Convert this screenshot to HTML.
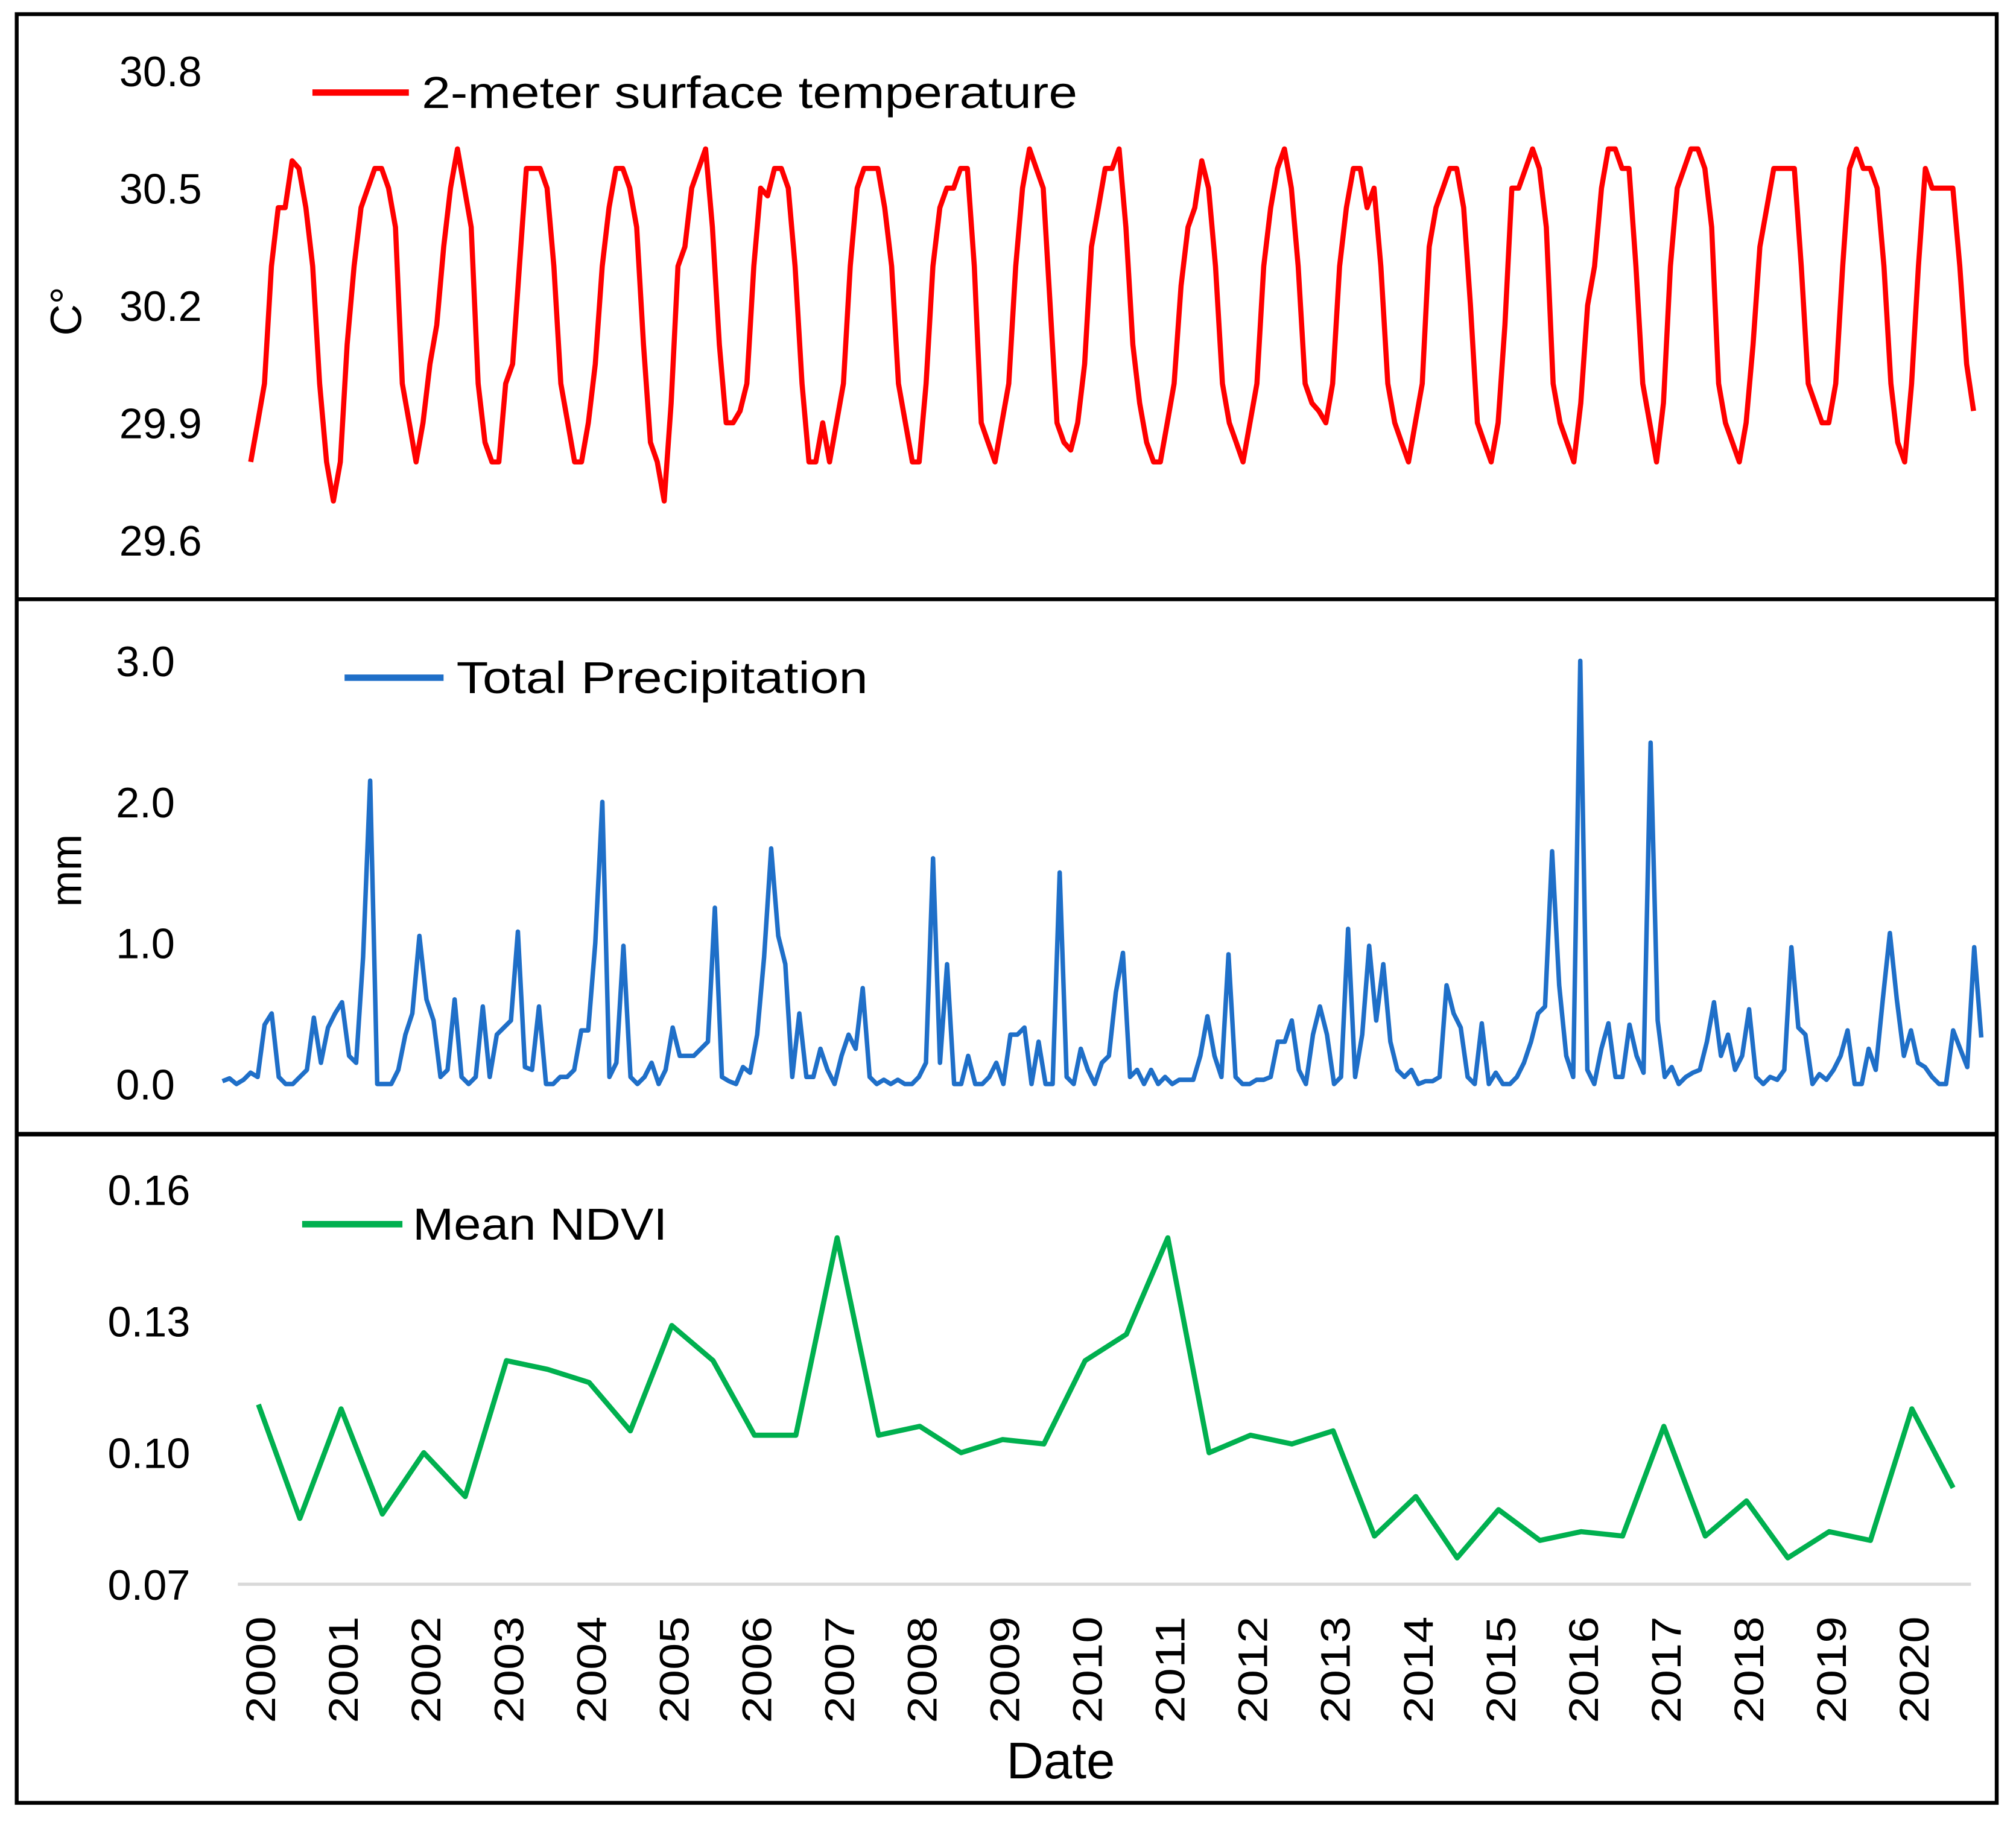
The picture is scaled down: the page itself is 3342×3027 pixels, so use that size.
<!DOCTYPE html>
<html><head><meta charset="utf-8"><style>
html,body{margin:0;padding:0;background:#fff}
svg{display:block}
text{font-family:"Liberation Sans",sans-serif;fill:#000}
</style></head><body>
<svg id="chart" xmlns="http://www.w3.org/2000/svg" width="3342" height="3027" viewBox="0 0 1568 1420" preserveAspectRatio="none">
<rect x="0" y="0" width="1568" height="1420" fill="#fff"/>
<rect x="13" y="11" width="1540" height="1391" fill="none" stroke="#000" stroke-width="3"/>
<line x1="13" y1="466" x2="1553" y2="466" stroke="#000" stroke-width="3"/>
<line x1="13" y1="882" x2="1553" y2="882" stroke="#000" stroke-width="3.5"/>
<g id="g-temp"></g>
<g id="g-precip"></g>
<g id="g-ndvi"></g>
<text transform="translate(63,242) rotate(-90)" text-anchor="middle" font-size="34">C°</text>
<text transform="translate(63,677) rotate(-90)" text-anchor="middle" font-size="34">mm</text>
<text x="825" y="1383" text-anchor="middle" font-size="40">Date</text>
<line x1="243" y1="72" x2="318" y2="72" stroke="#ff0000" stroke-width="5"/>
<text x="328" y="84" font-size="35" textLength="510" lengthAdjust="spacingAndGlyphs">2-meter surface temperature</text>
<line x1="268" y1="527" x2="345" y2="527" stroke="#1f6fc8" stroke-width="5"/>
<text x="355" y="539" font-size="35" textLength="320" lengthAdjust="spacingAndGlyphs">Total Precipitation</text>
<line x1="235" y1="952" x2="313" y2="952" stroke="#00b04f" stroke-width="5"/>
<text x="321" y="964" font-size="35" textLength="198" lengthAdjust="spacingAndGlyphs">Mean NDVI</text>
</svg>
<script>
const tempTicks = [29.6, 29.9, 30.2, 30.5, 30.8];
const tempValues = [
29.80,29.90,30.00,30.30,30.45,30.45,30.57,30.55,30.45,30.30,30.00,29.80,
29.70,29.80,30.10,30.30,30.45,30.50,30.55,30.55,30.50,30.40,30.00,29.90,
29.80,29.90,30.05,30.15,30.35,30.50,30.60,30.50,30.40,30.00,29.85,29.80,
29.80,30.00,30.05,30.30,30.55,30.55,30.55,30.50,30.30,30.00,29.90,29.80,
29.80,29.90,30.05,30.30,30.45,30.55,30.55,30.50,30.40,30.10,29.85,29.80,
29.70,29.95,30.30,30.35,30.50,30.55,30.60,30.40,30.10,29.90,29.90,29.93,
30.00,30.30,30.50,30.48,30.55,30.55,30.50,30.30,30.00,29.80,29.80,29.90,
29.80,29.90,30.00,30.30,30.50,30.55,30.55,30.55,30.45,30.30,30.00,29.90,
29.80,29.80,30.00,30.30,30.45,30.50,30.50,30.55,30.55,30.30,29.90,29.85,
29.80,29.90,30.00,30.30,30.50,30.60,30.55,30.50,30.20,29.90,29.85,29.83,
29.90,30.05,30.35,30.45,30.55,30.55,30.60,30.40,30.10,29.95,29.85,29.80,
29.80,29.90,30.00,30.25,30.40,30.45,30.57,30.50,30.30,30.00,29.90,29.85,
29.80,29.90,30.00,30.30,30.45,30.55,30.60,30.50,30.30,30.00,29.95,29.93,
29.90,30.00,30.30,30.45,30.55,30.55,30.45,30.50,30.30,30.00,29.90,29.85,
29.80,29.90,30.00,30.35,30.45,30.50,30.55,30.55,30.45,30.20,29.90,29.85,
29.80,29.90,30.15,30.50,30.50,30.55,30.60,30.55,30.40,30.00,29.90,29.85,
29.80,29.95,30.20,30.30,30.50,30.60,30.60,30.55,30.55,30.30,30.00,29.90,
29.80,29.95,30.30,30.50,30.55,30.60,30.60,30.55,30.40,30.00,29.90,29.85,
29.80,29.90,30.10,30.35,30.45,30.55,30.55,30.55,30.55,30.30,30.00,29.95,
29.90,29.90,30.00,30.30,30.55,30.60,30.55,30.55,30.50,30.30,30.00,29.85,
29.80,30.00,30.30,30.55,30.50,30.50,30.50,30.50,30.30,30.05,29.93
];
const precipTicks = [0.0, 1.0, 2.0, 3.0];
const precipValues = [
0.02,0.04,0.00,0.03,0.08,0.05,0.42,0.50,0.05,0.00,0.00,0.05,
0.10,0.47,0.15,0.40,0.50,0.58,0.20,0.15,0.90,2.15,0.00,0.00,
0.00,0.10,0.35,0.50,1.05,0.60,0.45,0.05,0.10,0.60,0.05,0.00,
0.05,0.55,0.05,0.35,0.40,0.45,1.08,0.12,0.10,0.55,0.00,0.00,
0.05,0.05,0.10,0.38,0.38,1.00,2.00,0.05,0.15,0.98,0.05,0.00,
0.05,0.15,0.00,0.10,0.40,0.20,0.20,0.20,0.25,0.30,1.25,0.05,
0.02,0.00,0.12,0.08,0.35,0.90,1.67,1.05,0.85,0.05,0.50,0.05,
0.05,0.25,0.10,0.00,0.20,0.35,0.25,0.68,0.05,0.00,0.03,0.00,
0.03,0.00,0.00,0.05,0.15,1.60,0.15,0.85,0.00,0.00,0.20,0.00,
0.00,0.05,0.15,0.00,0.35,0.35,0.40,0.00,0.30,0.00,0.00,1.50,
0.05,0.00,0.25,0.10,0.00,0.15,0.20,0.65,0.93,0.05,0.10,0.00,
0.10,0.00,0.05,0.00,0.03,0.03,0.03,0.20,0.48,0.20,0.05,0.92,
0.05,0.00,0.00,0.03,0.03,0.05,0.30,0.30,0.45,0.10,0.00,0.35,
0.55,0.35,0.00,0.05,1.10,0.05,0.35,0.98,0.45,0.85,0.30,0.10,
0.05,0.10,0.00,0.02,0.02,0.05,0.70,0.50,0.40,0.05,0.00,0.43,
0.00,0.08,0.00,0.00,0.05,0.15,0.30,0.50,0.55,1.65,0.70,0.20,
0.05,3.00,0.10,0.00,0.25,0.43,0.05,0.05,0.42,0.20,0.08,2.42,
0.45,0.05,0.12,0.00,0.05,0.08,0.10,0.30,0.58,0.20,0.35,0.10,
0.20,0.53,0.05,0.00,0.05,0.03,0.10,0.97,0.40,0.35,0.00,0.07,
0.03,0.10,0.20,0.38,0.00,0.00,0.25,0.10,0.60,1.07,0.60,0.20,
0.38,0.15,0.12,0.05,0.00,0.00,0.38,0.25,0.12,0.97,0.33
];
const ndviTicks = ["0.07", "0.10", "0.13", "0.16"];
const ndviValues = [0.111,0.085,0.110,0.086,0.100,0.090,0.121,0.119,0.116,0.105,0.129,0.121,
0.104,0.104,0.149,0.104,0.106,0.100,0.103,0.102,0.121,0.127,0.149,0.100,0.104,0.102,0.105,
0.081,0.090,0.076,0.087,0.080,0.082,0.081,0.106,0.081,0.089,0.076,0.082,0.080,0.110,0.092];
const yearLabels = ["2000","2001","2002","2003","2004","2005","2006","2007","2008","2009","2010",
"2011","2012","2013","2014","2015","2016","2017","2018","2019","2020"];

const NS = "http://www.w3.org/2000/svg";
function mk(tag, attrs, parent){ const e=document.createElementNS(NS,tag); for(const k in attrs) e.setAttribute(k,attrs[k]); parent.appendChild(e); return e; }

// axis functions
const tempX = i => 195 + i*5.36;
const tempY = v => 55 + (30.8 - v)/0.3*91.25;
const precipX = i => 173 + i*5.472;
const precipY = v => 843 - v*109.7;
const ndviX = i => 201 + i*32.15;
const ndviY = v => 1232 - (v - 0.07)/0.03*102.3;
const yearX = k => 203 + k*64.3;

const gT = document.getElementById('g-temp');
tempTicks.forEach(t=>{
  const e = mk('text',{x:157,y:tempY(t)+12,'text-anchor':'end','font-size':33},gT);
  e.textContent = t.toFixed(1);
  
  
});
const pT = mk('polyline',{fill:'none',stroke:'#ff0000','stroke-width':4,'stroke-linejoin':'round',
  points: tempValues.map((v,i)=>tempX(i).toFixed(1)+','+tempY(v).toFixed(1)).join(' ')},gT);



const gP = document.getElementById('g-precip');
precipTicks.forEach(t=>{
  const e = mk('text',{x:136,y:precipY(t)+12,'text-anchor':'end','font-size':33},gP);
  e.textContent = t.toFixed(1);
  
  
});
const pP = mk('polyline',{fill:'none',stroke:'#1f6fc8','stroke-width':3.5,'stroke-linejoin':'round',
  points: precipValues.map((v,i)=>precipX(i).toFixed(1)+','+precipY(v).toFixed(1)).join(' ')},gP);



const gN = document.getElementById('g-ndvi');
const grid = mk('line',{x1:185,y1:ndviY(0.07),x2:1533,y2:ndviY(0.07),stroke:'#d9d9d9','stroke-width':2.5},gN);


ndviTicks.forEach(t=>{
  const e = mk('text',{x:148,y:ndviY(parseFloat(t))+12,'text-anchor':'end','font-size':33},gN);
  e.textContent = t;
  
  
});
const pN = mk('polyline',{fill:'none',stroke:'#00b04f','stroke-width':4,'stroke-linejoin':'round',
  points: ndviValues.map((v,i)=>ndviX(i).toFixed(1)+','+ndviY(v).toFixed(1)).join(' ')},gN);


yearLabels.forEach((y,k)=>{
  const e = mk('text',{transform:'translate('+(yearX(k)+11)+',1340) rotate(-90)','font-size':32,textLength:83,lengthAdjust:'spacingAndGlyphs'},gN);
  e.textContent = y;
  
  
});
</script>
</body></html>
